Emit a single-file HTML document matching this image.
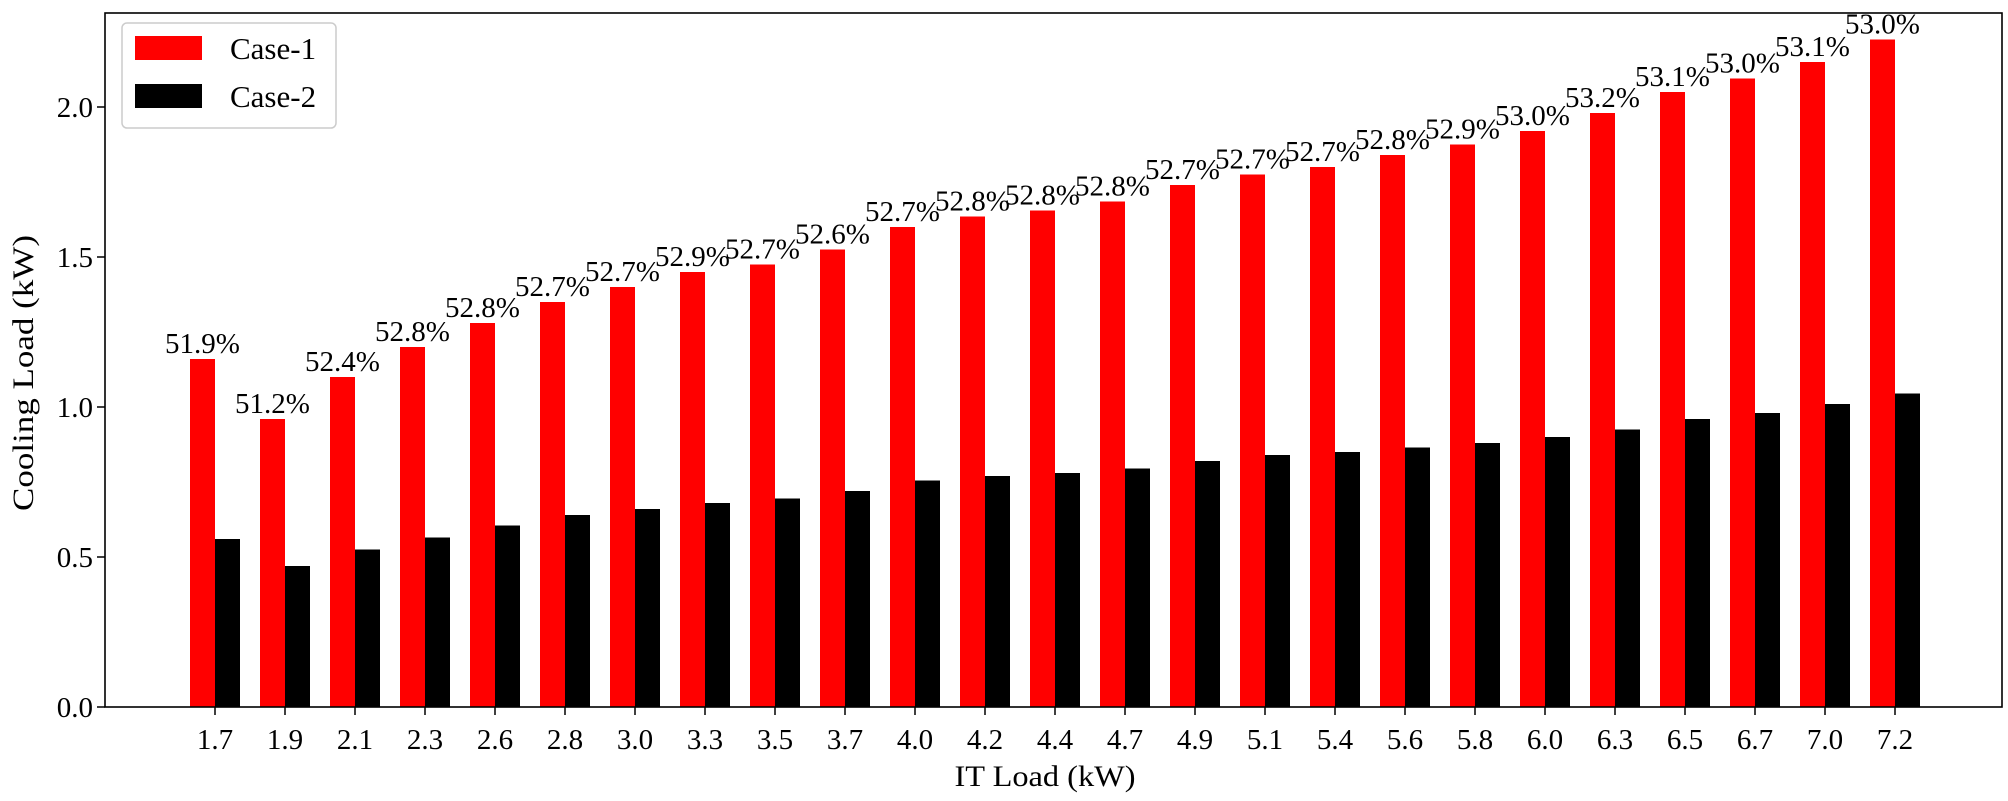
<!DOCTYPE html>
<html><head><meta charset="utf-8"><style>html,body{margin:0;padding:0;background:#fff}svg{display:block}text{font-family:"Liberation Serif",serif;fill:#000}</style></head>
<body>
<svg id="s" width="2008" height="801" xmlns="http://www.w3.org/2000/svg">
<g id="bars"></g>
<rect x="105" y="13" width="1897" height="694" fill="none" stroke="#000" stroke-width="1.6"/>
<g id="axes"></g>
<rect x="122" y="23" width="214" height="105" rx="5" fill="#fff" fill-opacity="0.85" stroke="#ccc" stroke-width="1.5"/>
<rect x="135" y="36" width="67" height="24" fill="#ff0000"/>
<rect x="135" y="84" width="67" height="24" fill="#000"/>
<text x="230" y="59" font-size="31">Case-1</text>
<text x="230" y="107" font-size="31">Case-2</text>
<text x="1045" y="786" font-size="30" text-anchor="middle" textLength="181" lengthAdjust="spacingAndGlyphs">IT Load (kW)</text>
<text transform="translate(33,373) rotate(-90)" font-size="30" text-anchor="middle" textLength="276" lengthAdjust="spacingAndGlyphs">Cooling Load (kW)</text>
</svg>
<script>
var ticks=["1.7","1.9","2.1","2.3","2.6","2.8","3.0","3.3","3.5","3.7","4.0","4.2","4.4","4.7","4.9","5.1","5.4","5.6","5.8","6.0","6.3","6.5","6.7","7.0","7.2"];
var r=[1.16,0.96,1.10,1.20,1.28,1.35,1.40,1.45,1.475,1.525,1.60,1.635,1.655,1.685,1.74,1.775,1.80,1.84,1.875,1.92,1.98,2.05,2.095,2.15,2.225];
var b=[0.56,0.47,0.525,0.565,0.605,0.64,0.66,0.68,0.695,0.72,0.755,0.77,0.78,0.795,0.82,0.84,0.85,0.865,0.88,0.90,0.925,0.96,0.98,1.01,1.045];
var p=["51.9","51.2","52.4","52.8","52.8","52.7","52.7","52.9","52.7","52.6","52.7","52.8","52.8","52.8","52.7","52.7","52.7","52.8","52.9","53.0","53.2","53.1","53.0","53.1","53.0"];
function Y(v){return 707-v*300;}
var g='',a='';
for(var i=0;i<25;i++){var c=215+i*70;
g+='<rect x="'+(c-25)+'" y="'+Y(r[i])+'" width="25" height="'+(r[i]*300)+'" fill="#ff0000"/>';
g+='<rect x="'+c+'" y="'+Y(b[i])+'" width="25" height="'+(b[i]*300)+'" fill="#000"/>';
g+='<text x="'+(c-12.5)+'" y="'+(Y(r[i])-6)+'" font-size="29" text-anchor="middle">'+p[i]+'%</text>';
a+='<line x1="'+c+'" y1="707" x2="'+c+'" y2="715" stroke="#000" stroke-width="1.5"/>';
a+='<text x="'+c+'" y="749" font-size="29" text-anchor="middle">'+ticks[i]+'</text>';}
for(var k=0;k<5;k++){var y=Y(k*0.5);
a+='<line x1="97" y1="'+y+'" x2="105" y2="'+y+'" stroke="#000" stroke-width="1.5"/>';
a+='<text x="93" y="'+(y+10)+'" font-size="29" text-anchor="end">'+(k*0.5).toFixed(1)+'</text>';}
document.getElementById('bars').innerHTML=g;document.getElementById('axes').innerHTML=a;
</script>
</body></html>
